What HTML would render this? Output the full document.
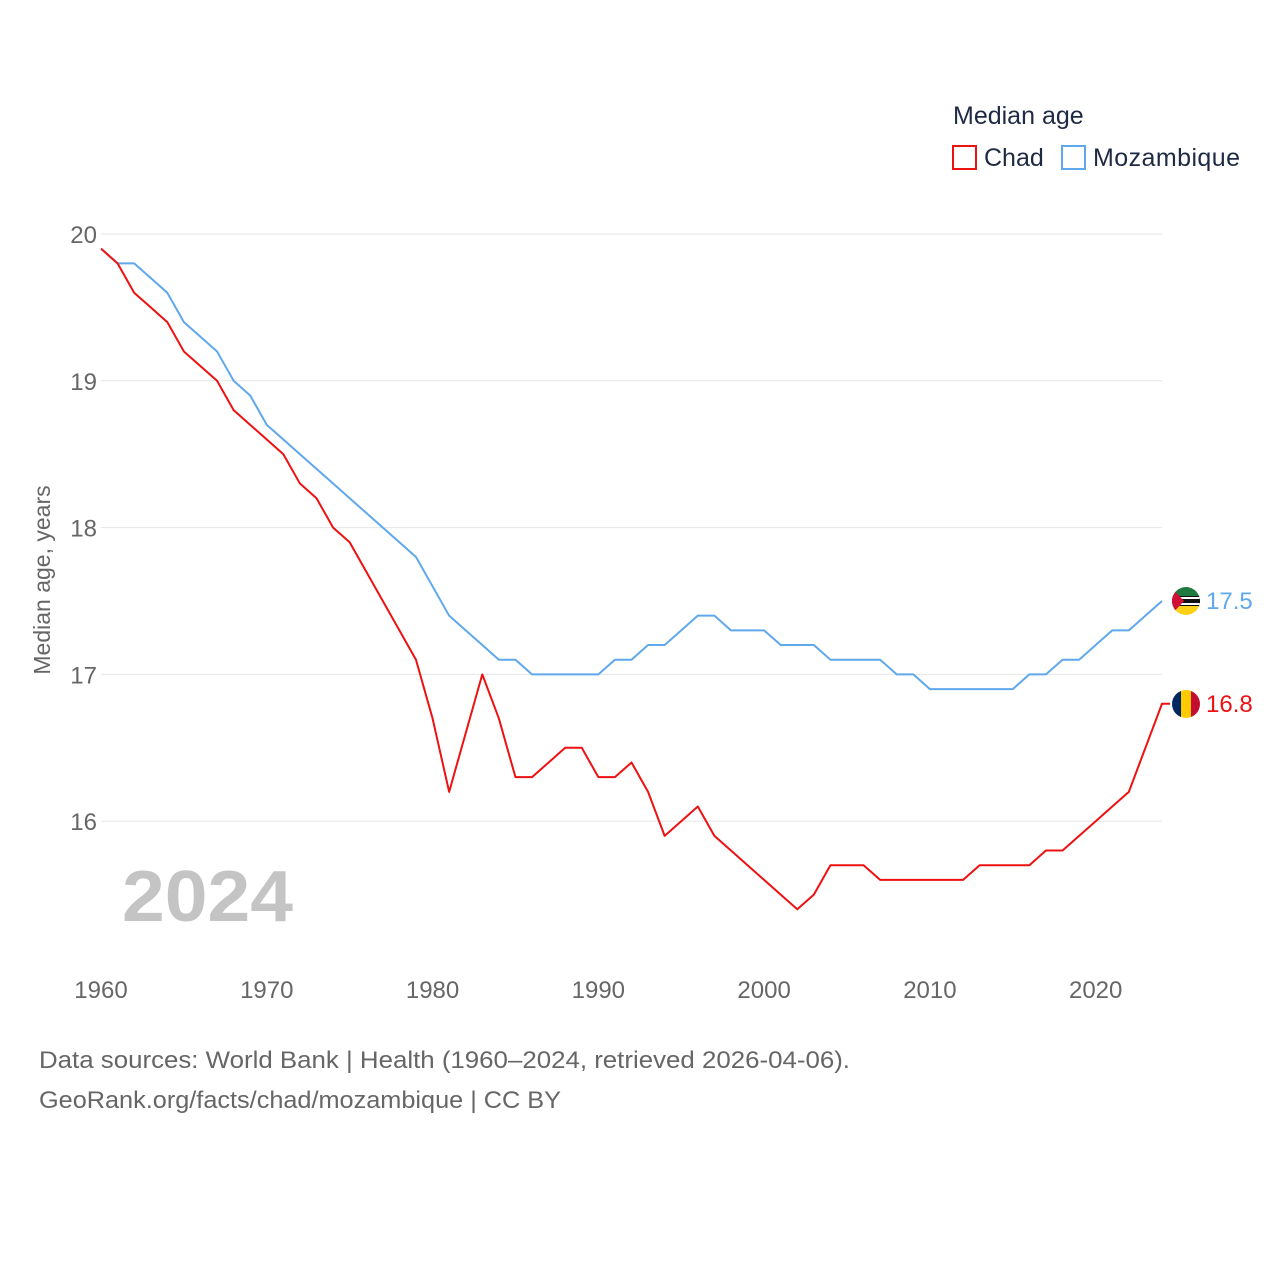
<!DOCTYPE html>
<html><head><meta charset="utf-8"><style>
body{margin:0;background:#fff;font-family:"Liberation Sans",sans-serif;}
svg text{font-family:"Liberation Sans",sans-serif;}
</style></head><body>
<svg id="chart" width="1280" height="1280" xmlns="http://www.w3.org/2000/svg">
<text x="953" y="124" font-size="25" fill="#1e2a44">Median age</text>
<g><rect x="953" y="146" width="23" height="23" fill="none" stroke="#ee1111" stroke-width="2"/><text x="984" y="166" font-size="25" fill="#1e2a44">Chad</text></g>
<g><rect x="1062" y="146" width="23" height="23" fill="none" stroke="#5fa8ec" stroke-width="2"/><text x="1093" y="166" font-size="25" fill="#1e2a44" textLength="147">Mozambique</text></g>
<g id="grid"></g><g id="xt"></g><g id="lines"></g>
<text transform="translate(50,580) rotate(-90)" text-anchor="middle" font-size="23" fill="#666">Median age, years</text>
<text x="122" y="921" font-size="72" font-weight="bold" fill="#c4c4c4" textLength="171" lengthAdjust="spacingAndGlyphs">2024</text>
<text x="39" y="1068" font-size="24" fill="#666" textLength="811" lengthAdjust="spacingAndGlyphs">Data sources: World Bank | Health (1960–2024, retrieved 2026-04-06).</text>
<text x="39" y="1108" font-size="24" fill="#666" textLength="522" lengthAdjust="spacingAndGlyphs">GeoRank.org/facts/chad/mozambique | CC BY</text>
<g>
<clipPath id="c1"><circle cx="1186" cy="601" r="14"/></clipPath>
<g clip-path="url(#c1)"><rect x="1170" y="586" width="32" height="10" fill="#1f7a3f"/><rect x="1170" y="596" width="32" height="10" fill="#111"/><rect x="1170" y="598" width="32" height="6" fill="#111" stroke="#fff" stroke-width="2"/><rect x="1170" y="606" width="32" height="10" fill="#fcd116"/><polygon points="1170,586 1184,601 1170,616" fill="#d21034"/></g></g>
<g>
<clipPath id="c2"><circle cx="1186" cy="704" r="14"/></clipPath>
<g clip-path="url(#c2)"><rect x="1170" y="689" width="11" height="30" fill="#002664"/><rect x="1181" y="689" width="10" height="30" fill="#fecb00"/><rect x="1191" y="689" width="11" height="30" fill="#c60c30"/></g></g>
<text id="lblM" x="1206" y="607" font-size="24" fill="#5fa8ec"></text>
<text id="lblC" x="1206" y="709" font-size="24" fill="#ee1111"></text>
</svg>
<script>
const years=[];for(let y=1960;y<=2024;y++)years.push(y);
const chad=[19.9,19.8,19.6,19.5,19.4,19.2,19.1,19.0,18.8,18.7,18.6,18.5,18.3,18.2,18.0,17.9,17.7,17.5,17.3,17.1,16.7,16.2,16.6,17.0,16.7,16.3,16.3,16.4,16.5,16.5,16.3,16.3,16.4,16.2,15.9,16.0,16.1,15.9,15.8,15.7,15.6,15.5,15.4,15.5,15.7,15.7,15.7,15.6,15.6,15.6,15.6,15.6,15.6,15.7,15.7,15.7,15.7,15.8,15.8,15.9,16.0,16.1,16.2,16.5,16.8];
const mozambique=[19.9,19.8,19.8,19.7,19.6,19.4,19.3,19.2,19.0,18.9,18.7,18.6,18.5,18.4,18.3,18.2,18.1,18.0,17.9,17.8,17.6,17.4,17.3,17.2,17.1,17.1,17.0,17.0,17.0,17.0,17.0,17.1,17.1,17.2,17.2,17.3,17.4,17.4,17.3,17.3,17.3,17.2,17.2,17.2,17.1,17.1,17.1,17.1,17.0,17.0,16.9,16.9,16.9,16.9,16.9,16.9,17.0,17.0,17.1,17.1,17.2,17.3,17.3,17.4,17.5];
const yTicks=[16,17,18,19,20];
const xTicks=[1960,1970,1980,1990,2000,2010,2020];
const X=y=>101+(y-1960)*(1162-101)/64;
const Y=v=>234+(20-v)*146.8;
const NS="http://www.w3.org/2000/svg";
function mk(t,a,p){const e=document.createElementNS(NS,t);for(const k in a)e.setAttribute(k,a[k]);p.appendChild(e);return e;}
const g=document.getElementById('grid');
yTicks.forEach(v=>{
 const l=mk('line',{x1:101,x2:1162,y1:Y(v),y2:Y(v),stroke:'#e6e6e6','stroke-width':1},g);
 
 
 const t=mk('text',{x:97,y:Y(v)+9,'text-anchor':'end','font-size':24,fill:'#666'},g);t.textContent=v;
 
 
});
const xt=document.getElementById('xt');
xTicks.forEach(v=>{
 const t=mk('text',{x:X(v),y:998,'text-anchor':'middle','font-size':24,fill:'#666'},xt);t.textContent=v;
 
 
});
const lg=document.getElementById('lines');
[[mozambique,'#5fa8ec','line-mozambique',0],[chad,'#ee1111','line-chad',8]].forEach(([d,c,n,tail])=>{
 let pts=d.map((v,i)=>X(years[i])+','+Y(v));
 if(tail)pts.push((X(years[years.length-1])+tail)+','+Y(d[d.length-1]));
 const p=mk('polyline',{points:pts.join(' '),fill:'none',stroke:c,'stroke-width':2,'stroke-linejoin':'round'},lg);
 
 
});
const lm=document.getElementById('lblM');lm.textContent=mozambique[mozambique.length-1];lm.setAttribute('y',Y(mozambique[mozambique.length-1])+8);
const lc=document.getElementById('lblC');lc.textContent=chad[chad.length-1];lc.setAttribute('y',Y(chad[chad.length-1])+8);
</script>
</body></html>
